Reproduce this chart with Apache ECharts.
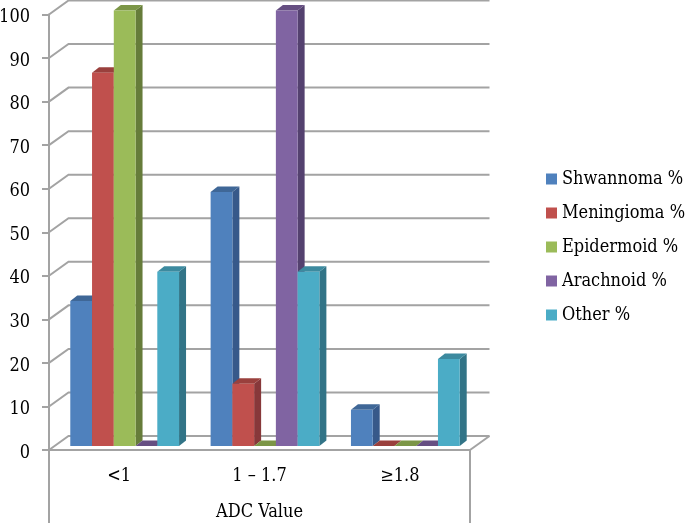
<!DOCTYPE html>
<html><head><meta charset="utf-8">
<style>html,body{margin:0;padding:0;background:#fff}#c{width:685px;height:523px}</style>
<script src="https://cdn.jsdelivr.net/npm/echarts@6/dist/echarts.min.js"></script>
</head><body><div id="c"></div>
<script>
const categories = ['<1', '1 – 1.7', '≥1.8'];
const shwannoma = [33.3, 58.3, 8.3];
const meningioma = [85.7, 14.3, 0];
const epidermoid = [100, 0, 0];
const arachnoid = [0, 100, 0];
const other = [40, 40, 20];
const yTicks = [0,10,20,30,40,50,60,70,80,90,100];
const names = ['Shwannoma %','Meningioma %','Epidermoid %','Arachnoid %','Other %'];
const values = [shwannoma, meningioma, epidermoid, arachnoid, other];
const faces = ['#4F81BD','#C0504D','#9BBB59','#8064A2','#4BACC6'];
const tops  = ['#3F6797','#9A403D','#7C9647','#664F82','#3C8A9F'];
const sides = ['#37598A','#87383A','#667C3A','#54416F','#327487'];
const FONT = '"DejaVu Serif Condensed", "Liberation Serif", serif';
const FS = 18;
const GRID = '#A3A3A3';
const WALL = [19.5, -14];   // depth of the chart box
const BAR_SHIFT = [5.5, -4]; // bar plane inside the box
const BAR_DEPTH = [7, -5.5];
const BAR_FRAC = 0.155;

function wallItem(params, api) {
  const cs = params.coordSys;
  const y = api.coord([0, api.value(0)])[1];
  const style = {stroke: GRID, lineWidth: 2, fill: null};
  const children = [{type:'polyline', shape:{points:[
    [cs.x, y],[cs.x+WALL[0], y+WALL[1]],[cs.x+cs.width+WALL[0], y+WALL[1]]
  ]}, style}];
  if (api.value(0) === 0) {
    const b = api.getHeight();
    children.push({type:'line', shape:{x1:cs.x+cs.width, y1:y, x2:cs.x+cs.width+WALL[0], y2:y+WALL[1]}, style});
    children.push({type:'line', shape:{x1:cs.x, y1:y, x2:cs.x, y2:b}, style});
    children.push({type:'line', shape:{x1:cs.x+cs.width, y1:y, x2:cs.x+cs.width, y2:b}, style});
  }
  return {type:'group', children};
}
function barRender(si) {
  return function(params, api) {
    const c = api.coord([api.value(0), api.value(1)]);
    const base = api.coord([api.value(0), 0]);
    const band = api.size([1,0])[0];
    const w = band * BAR_FRAC;
    const x0 = c[0] + BAR_SHIFT[0] + (si - 2.5) * w, x1 = x0 + w;
    const yT = c[1] + BAR_SHIFT[1], yB = base[1] + BAR_SHIFT[1];
    const dx = BAR_DEPTH[0], dy = BAR_DEPTH[1];
    return {type:'group', children:[
      {type:'polygon', shape:{points:[[x1,yT],[x1+dx,yT+dy],[x1+dx,yB+dy],[x1,yB]]}, style:{fill:sides[si]}},
      {type:'polygon', shape:{points:[[x0,yT],[x0+dx,yT+dy],[x1+dx,yT+dy],[x1,yT]]}, style:{fill:tops[si]}},
      {type:'rect', shape:{x:x0,y:yT,width:w,height:yB-yT}, style:{fill:faces[si]}}
    ]};
  };
}
const series = [{
  type:'custom', name:'walls', silent:true, z:1, clip:false,
  data: yTicks.map(v=>[v]), encode:{y:0},
  renderItem: wallItem
}];
names.forEach((n,si)=>{
  series.push({
    type:'custom', name:n, z:2+si, clip:false,
    itemStyle:{color:faces[si]},
    encode:{x:0,y:1},
    data: values[si].map((v,i)=>[i,v]),
    renderItem: barRender(si)
  });
});
const chart = echarts.init(document.getElementById('c'), null, {renderer:'canvas'});
chart.setOption({
  animation:false,
  backgroundColor:'#fff',
  grid:{left:49, top:14.5, width:421, height:435.5, outerBoundsMode:'none'},
  legend:{
    data:names, orient:'vertical', left:541, top:165,
    icon:'rect', itemWidth:11, itemHeight:11, itemGap:16,
    selectedMode:false,
    textStyle:{fontFamily:FONT, fontSize:FS, color:'#000'}
  },
  xAxis:{
    type:'category', data:categories,
    name:'ADC Value', nameLocation:'middle', nameGap:53,
    nameTextStyle:{fontFamily:FONT, fontSize:18, color:'#000'},
    axisLine:{lineStyle:{color:GRID,width:2}},
    axisTick:{length:37, lineStyle:{color:GRID,width:2}, alignWithLabel:false},
    axisLabel:{fontFamily:FONT, fontSize:FS, color:'#000', margin:17}
  },
  yAxis:{
    type:'value', min:0, max:100, interval:10,
    axisLine:{show:true, lineStyle:{color:GRID,width:2}},
    axisTick:{show:true, length:7, lineStyle:{color:GRID,width:2}},
    splitLine:{show:false},
    axisLabel:{fontFamily:FONT, fontSize:FS, color:'#000', margin:19, padding:[0,0,0,0], lineHeight:18, verticalAlign:'top', padding:[-6,0,0,0]}
  },
  series
});
</script></body></html>
